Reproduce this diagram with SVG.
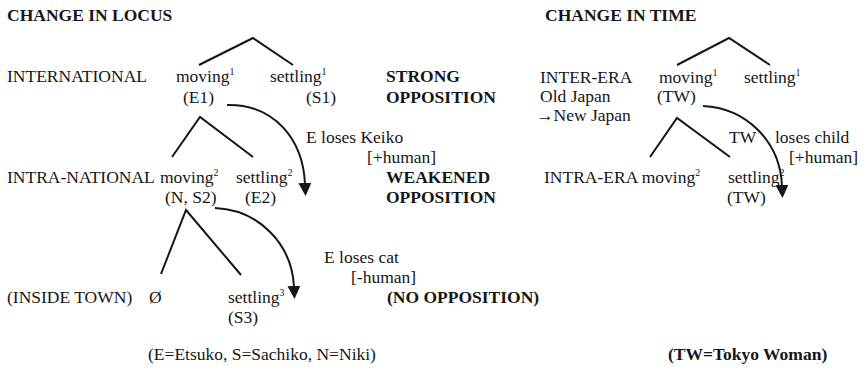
<svg xmlns="http://www.w3.org/2000/svg" width="865" height="371" viewBox="0 0 865 371">
<defs>
<marker id="ah" viewBox="0 0 12 12" markerUnits="userSpaceOnUse" markerWidth="13" markerHeight="13" refX="1" refY="6" orient="auto">
<path d="M0,0 L12,6 L0,12 z" fill="#161616"/>
</marker>
</defs>
<rect width="865" height="371" fill="#fff"/>
<g id="locus-title"><text font-family="Times New Roman" font-size="17.5" fill="#161616" font-weight="bold" x="7" y="21">CHANGE IN LOCUS</text></g>
<g id="time-title"><text font-family="Times New Roman" font-size="17.5" fill="#161616" font-weight="bold" x="545" y="21">CHANGE IN TIME</text></g>

<g id="connectors" fill="none" stroke="#161616" stroke-width="2">
<path d="M199,65 L253,38 L293,65"/>
<path d="M172,157 L200,117 L253,157"/>
<path d="M161,274 L186,210 L241,275"/>
<path d="M677,65 L729,38 L770,65"/>
<path d="M650,157 L677,118 L730,157"/>
<path d="M227,105 C275,104 303,140 305,184" marker-end="url(#ah)"/>
<path d="M215,208 C260,210 292,245 294,287" marker-end="url(#ah)"/>
<path d="M703,106 C745,108 780,140 782,186" marker-end="url(#ah)"/>
</g>

<g id="row-international">
<text font-family="Times New Roman" font-size="17.5" fill="#161616" x="7" y="82">INTERNATIONAL</text>
</g>
<g id="moving1">
<text font-family="Times New Roman" font-size="17.5" fill="#161616" x="176" y="82">moving<tspan font-size="10" dy="-7">1</tspan></text>
<text font-family="Times New Roman" font-size="17.5" fill="#161616" x="183" y="103">(E1)</text>
</g>
<g id="settling1">
<text font-family="Times New Roman" font-size="17.5" fill="#161616" x="270" y="82">settling<tspan font-size="10" dy="-7">1</tspan></text>
<text font-family="Times New Roman" font-size="17.5" fill="#161616" x="306" y="103">(S1)</text>
</g>
<g id="strong">
<text font-family="Times New Roman" font-size="17.5" fill="#161616" font-weight="bold" x="386" y="82">STRONG</text>
<text font-family="Times New Roman" font-size="17.5" fill="#161616" font-weight="bold" x="386" y="103">OPPOSITION</text>
</g>
<g id="keiko">
<text font-family="Times New Roman" font-size="17.5" fill="#161616" x="306" y="143">E loses Keiko</text>
<text font-family="Times New Roman" font-size="17.5" fill="#161616" x="367" y="163">[+human]</text>
</g>
<g id="row-intranational">
<text font-family="Times New Roman" font-size="17.5" fill="#161616" x="7" y="183">INTRA-NATIONAL</text>
</g>
<g id="moving2">
<text font-family="Times New Roman" font-size="17.5" fill="#161616" x="160" y="183">moving<tspan font-size="10" dy="-7">2</tspan></text>
<text font-family="Times New Roman" font-size="17.5" fill="#161616" x="165" y="203">(N, S2)</text>
</g>
<g id="settling2">
<text font-family="Times New Roman" font-size="17.5" fill="#161616" x="236" y="183">settling<tspan font-size="10" dy="-7">2</tspan></text>
<text font-family="Times New Roman" font-size="17.5" fill="#161616" x="245" y="203">(E2)</text>
</g>
<g id="weakened">
<text font-family="Times New Roman" font-size="17.5" fill="#161616" font-weight="bold" x="386" y="183">WEAKENED</text>
<text font-family="Times New Roman" font-size="17.5" fill="#161616" font-weight="bold" x="386" y="203">OPPOSITION</text>
</g>
<g id="cat">
<text font-family="Times New Roman" font-size="17.5" fill="#161616" x="324" y="263">E loses cat</text>
<text font-family="Times New Roman" font-size="17.5" fill="#161616" x="351" y="283">[-human]</text>
</g>
<g id="row-inside">
<text font-family="Times New Roman" font-size="17.5" fill="#161616" x="7" y="303">(INSIDE TOWN)</text>
</g>
<g id="null"><text font-family="Times New Roman" font-size="17.5" fill="#161616" x="149" y="303">Ø</text></g>
<g id="settling3">
<text font-family="Times New Roman" font-size="17.5" fill="#161616" x="228" y="303">settling<tspan font-size="10" dy="-7">3</tspan></text>
<text font-family="Times New Roman" font-size="17.5" fill="#161616" x="228" y="323">(S3)</text>
</g>
<g id="noopp"><text font-family="Times New Roman" font-size="17.5" fill="#161616" font-weight="bold" x="387" y="303">(NO OPPOSITION)</text></g>
<g id="legend-locus"><text font-family="Times New Roman" font-size="17.5" fill="#161616" x="148" y="360">(E=Etsuko, S=Sachiko, N=Niki)</text></g>

<g id="row-interera">
<text font-family="Times New Roman" font-size="17.5" fill="#161616" x="540" y="83">INTER-ERA</text>
<text font-family="Times New Roman" font-size="17.5" fill="#161616" x="540" y="102">Old Japan</text>
<text font-family="Times New Roman" font-size="17.5" fill="#161616" x="536" y="121">→New Japan</text>
</g>
<g id="tmoving1">
<text font-family="Times New Roman" font-size="17.5" fill="#161616" x="659" y="83">moving<tspan font-size="10" dy="-7">1</tspan></text>
<text font-family="Times New Roman" font-size="17.5" fill="#161616" x="657" y="102">(TW)</text>
</g>
<g id="tsettling1">
<text font-family="Times New Roman" font-size="17.5" fill="#161616" x="744" y="83">settling<tspan font-size="10" dy="-7">1</tspan></text>
</g>
<g id="child">
<text font-family="Times New Roman" font-size="17.5" fill="#161616" x="729" y="143">TW</text>
<text font-family="Times New Roman" font-size="17.5" fill="#161616" x="775" y="143">loses child</text>
<text font-family="Times New Roman" font-size="17.5" fill="#161616" x="789" y="163">[+human]</text>
</g>
<g id="row-intraera">
<text font-family="Times New Roman" font-size="17.5" fill="#161616" x="544" y="183">INTRA-ERA moving<tspan font-size="10" dy="-7">2</tspan></text>
</g>
<g id="tsettling2">
<text font-family="Times New Roman" font-size="17.5" fill="#161616" x="728" y="183">settling<tspan font-size="10" dy="-7">2</tspan></text>
<text font-family="Times New Roman" font-size="17.5" fill="#161616" x="727" y="203">(TW)</text>
</g>
<g id="legend-time"><text font-family="Times New Roman" font-size="17.5" fill="#161616" font-weight="bold" x="668" y="360">(TW=Tokyo Woman)</text></g>
</svg>
